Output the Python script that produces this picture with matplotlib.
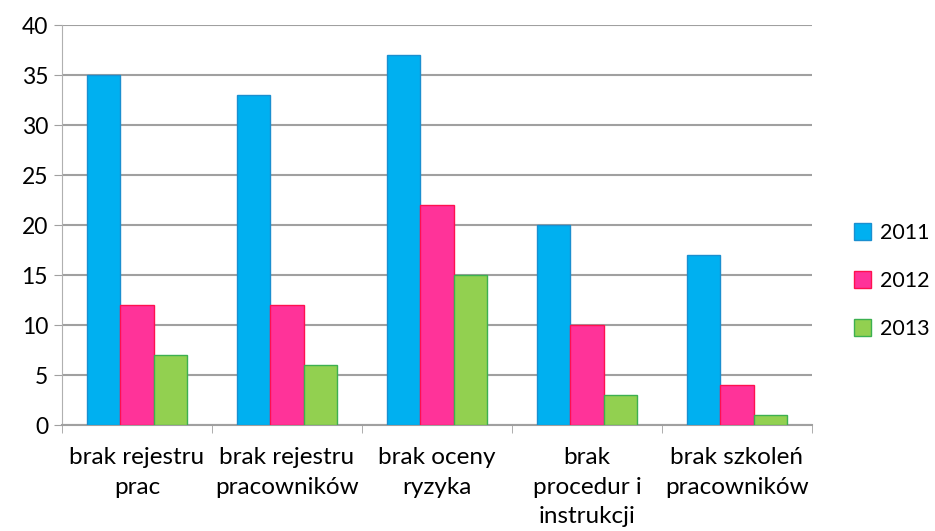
import numpy as np
import matplotlib.pyplot as plt

categories = ['brak rejestru\nprac', 'brak rejestru\npracowników', 'brak oceny\nryzyka',
              'brak\nprocedur i\ninstrukcji', 'brak szkoleń\npracowników']
years = ['2011', '2012', '2013']
v2011 = [35, 33, 37, 20, 17]
v2012 = [12, 12, 22, 10, 4]
v2013 = [7, 6, 15, 3, 1]

colors = ['#00B0F0', '#FF3399', '#92D050']
edges = ['#1A8FD0', '#FF1050', '#3CB050']

plt.rcParams['font.family'] = ['Lato', 'DejaVu Sans']

fig = plt.figure(figsize=(9.35, 5.31), dpi=100)
ax = fig.add_axes([0.0663, 0.1996, 0.802, 0.7533])

x = np.arange(len(categories))
w = 0.222
for i, (vals, name) in enumerate(zip([v2011, v2012, v2013], years)):
    ax.bar(x + (i - 1) * w, vals, width=w, color=colors[i], edgecolor=edges[i],
           linewidth=1, label=name, zorder=3)

ax.set_xlim(-0.5, len(categories) - 0.5)
ax.set_ylim(0, 40)
ax.set_yticks(range(0, 41, 5))
ax.tick_params(axis='y', labelsize=16.5, length=6, color='#A0A0A0', pad=4)
ax.set_xticks(x)
ax.set_xticklabels(categories, fontsize=17.5, linespacing=1.5)
ax.tick_params(axis='x', length=0, pad=16)
ax.set_xticks(np.arange(-0.5, len(categories), 1), minor=True)
ax.tick_params(axis='x', which='minor', length=6, color='#A0A0A0')

ax.grid(True, axis='y', color='#A0A0A0', linewidth=1.5, zorder=0)
for s in ['top', 'right']:
    ax.spines[s].set_visible(False)
ax.spines['left'].set_color('#B0B0B0')
ax.spines['bottom'].set_color('#A0A0A0')
ax.spines['bottom'].set_linewidth(1.5)

ax.legend(loc='center left', bbox_to_anchor=(1.03, 0.36), frameon=False, fontsize=15.5,
          handlelength=0.8, handleheight=0.8, labelspacing=1.3, handletextpad=0.4)

fig.savefig('out.png', dpi=100)
